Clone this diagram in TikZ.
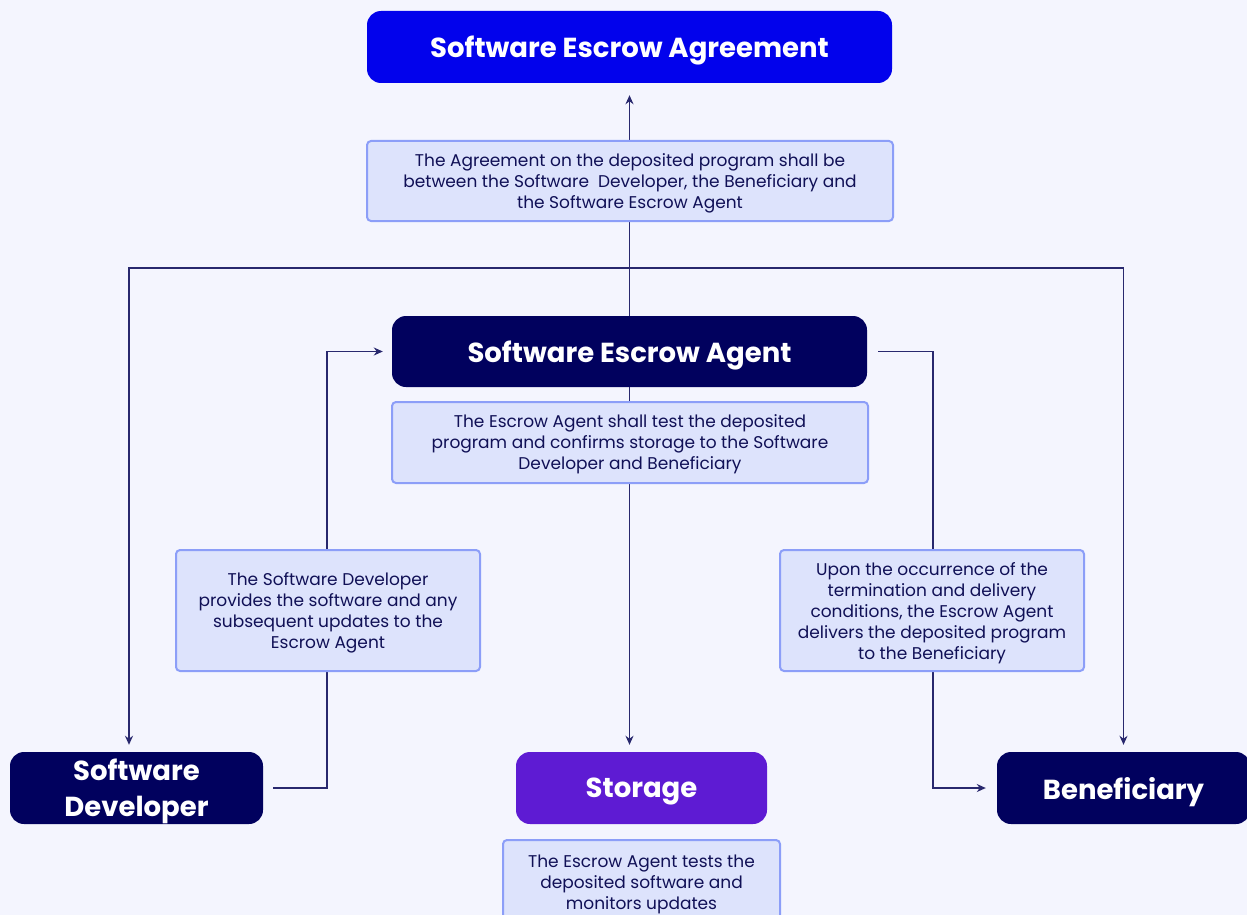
\documentclass[tikz,border=0pt]{standalone}
\usepackage{fontspec}
\setmainfont{Poppins}
\usetikzlibrary{arrows.meta,positioning}
\definecolor{pagebg}{RGB}{244,245,254}
\definecolor{agreeblue}{RGB}{2,2,236}
\definecolor{navy}{RGB}{1,1,94}
\definecolor{storeviolet}{RGB}{94,27,211}
\definecolor{notefill}{RGB}{221,227,252}
\definecolor{noteline}{RGB}{140,158,248}
\definecolor{notetext}{RGB}{16,16,86}
\definecolor{wire}{RGB}{40,40,110}
\tikzset{head/.style={rectangle, rounded corners=14pt, text=white, inner sep=0pt, align=center,
 font=\bfseries\fontsize{27.5}{36}\selectfont, text depth=0pt, minimum height=72pt}}
\tikzset{agreement/.style={head, fill=agreeblue, minimum width=525pt}}
\tikzset{party/.style={head, fill=navy, minimum width=253pt}}
\tikzset{store/.style={head, fill=storeviolet, minimum width=251pt}}
\tikzset{note/.style={rectangle, draw=noteline, line width=2pt, fill=notefill, rounded corners=4pt,
 text=notetext, font=\fontsize{17}{21}\selectfont, text depth=0pt, align=center, inner sep=0pt}}
\tikzset{flow/.style={draw=wire, line width=1.5pt, -{Stealth[length=9pt,width=8pt]}}}

\begin{document}
\begin{tikzpicture}[x=1pt, y=-1pt]
        \fill[pagebg] (0,0) rectangle (1247,915);
        \useasboundingbox (0,0) rectangle (1247,915);

        \node[agreement]               (agree) at (629.5,47)  {Software Escrow Agreement};
        \node[party, minimum width=475pt, minimum height=71pt] (agent) at (629.5,351.5) {Software Escrow Agent};
        \node[party]                   (dev)   at (136.5,788) {Software\\Developer};
        \node[store]                   (store) at (641.5,788) {Storage};
        \node[party]                   (benef) at (1123.5,788) {Beneficiary};

        % lines first, the notes sit on top of them
        \coordinate (split) at (629,268);
        \path[flow, shorten >=12pt] (agent.north) -- (agree.south);
        \path[flow, shorten >=7pt] (split) -| ([xshift=-7.5pt]dev.north);
        \path[flow, shorten >=7pt] (split) -| (benef.north);
        \path[flow, shorten >=7pt] (agent.south) -- (agent.south |- store.north);
        \path[flow, shorten <=10pt, shorten >=9pt] (dev.east) -- ++(64,0) |- (agent.west);
        \path[flow, shorten <=11pt, shorten >=11pt] (agent.east) -- ++(66,0) |- (benef.west);

        \node[note, minimum width=526pt, minimum height=80pt]  (n1) at (630,181)
            {The Agreement on the deposited program shall be\\between the Software\ \ Developer, the Beneficiary and\\the Software Escrow Agent};
        \node[note, minimum width=476pt, minimum height=81pt]  (n2) at (630,442.5)
            {The Escrow Agent shall test the deposited\\program and confirms storage to the Software\\Developer and Beneficiary};
        \node[note, minimum width=304pt, minimum height=121pt] (n3) at (328,610.5)
            {The Software Developer\\provides the software and any\\subsequent updates to the\\Escrow Agent};
        \node[note, minimum width=304pt, minimum height=121pt] (n4) at (932,610.5)
            {Upon the occurrence of the\\termination and delivery\\conditions, the Escrow Agent\\delivers the deposited program\\to the Beneficiary};
        \node[note, minimum width=277pt, minimum height=85pt]  (n5) at (641.5,882.5)
            {The Escrow Agent tests the\\deposited software and\\monitors updates};
      \end{tikzpicture}
\end{document}
